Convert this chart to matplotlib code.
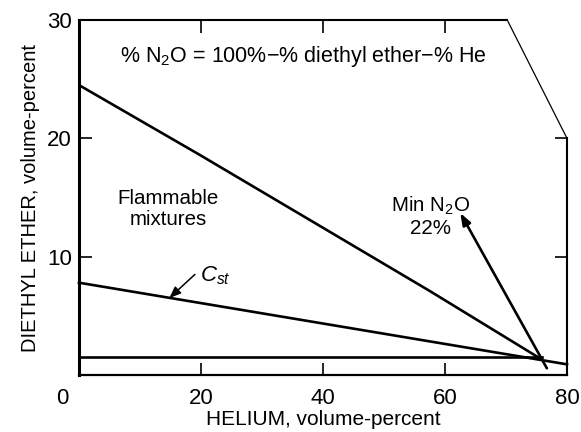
import matplotlib
matplotlib.use("Agg")
import matplotlib.pyplot as plt
from matplotlib.transforms import ScaledTranslation

plt.rcParams['font.family'] = ['Liberation Sans', 'DejaVu Sans']
plt.rcParams['mathtext.fontset'] = 'custom'
plt.rcParams['mathtext.rm'] = 'Liberation Sans'
plt.rcParams['mathtext.it'] = 'Liberation Sans:italic'

# --- data ---
upper_x = [0, 19.8, 36.2, 57.5, 75.9]
upper_y = [24.5, 18.6, 13.6, 7.1, 1.3]
cst_x = [0, 80]
cst_y = [7.8, 0.9]
lower_x = [0, 75.9]
lower_y = [1.5, 1.5]
minn2o_x = [76.7, 62.5]
minn2o_y = [0.57, 13.7]
frame_x = [0, 70.2, 80, 80]
frame_y = [30, 30, 20, 0]
xticks = [0, 20, 40, 60, 80]
xticklabels = ['0', '20', '40', '60', '80']
yticks = [10, 20, 30]
yticklabels = ['10', '20', '30']
top_ticks = [20, 40, 60]
right_ticks = [10, 20]

fig = plt.figure(figsize=(5.81, 4.32), dpi=100)
ax = fig.add_axes([79/581, 57/432, 488/581, 355/432])
ax.set_xlim(0, 80)
ax.set_ylim(0, 30)

for s in ['top', 'right']:
    ax.spines[s].set_visible(False)
ax.spines['left'].set_linewidth(2.2)
ax.spines['bottom'].set_linewidth(1.6)

lw = 1.9
ax.plot(upper_x, upper_y, color='black', lw=lw, solid_capstyle='butt')
ax.plot(cst_x, cst_y, color='black', lw=lw, clip_on=False)
ax.plot(lower_x, lower_y, color='black', lw=lw)
# frame with clipped corner
ax.plot(frame_x[:2], frame_y[:2], color='black', lw=1.5, clip_on=False)
ax.plot(frame_x[1:3], frame_y[1:3], color='black', lw=0.9, clip_on=False)
ax.plot(frame_x[2:], frame_y[2:], color='black', lw=1.5, clip_on=False)

# Min N2O arrow line
ax.annotate('', xy=(minn2o_x[1], minn2o_y[1]), xytext=(minn2o_x[0], minn2o_y[0]),
            arrowprops=dict(arrowstyle='-|>,head_length=0.5,head_width=0.18',
                            color='black', lw=lw,
                            mutation_scale=14, shrinkA=0, shrinkB=0))
# C_st arrow
ax.annotate('', xy=(14.8, 6.5), xytext=(19.0, 8.5),
            arrowprops=dict(arrowstyle='-|>,head_length=0.5,head_width=0.2',
                            color='black', lw=1.1,
                            mutation_scale=14, shrinkA=0, shrinkB=0))

ax.text(22.3, 8.4, '$C_{st}$', fontsize=16, ha='center', va='center')
ax.text(36.8, 26.9, '% N$_\\mathrm{2}$O = 100%\u2212% diethyl ether\u2212% He',
        fontsize=15.5, ha='center', va='center')
ax.text(14.6, 14.05, 'Flammable\nmixtures', fontsize=14.8, ha='center', va='center',
        linespacing=1.15)
ax.text(57.6, 13.4, 'Min N$_\\mathrm{2}$O\n22%', fontsize=14.8, ha='center', va='center',
        linespacing=1.15)

ax.set_xticks(xticks)
ax.set_xticklabels(xticklabels)
ax.set_yticks(yticks)
ax.set_yticklabels(yticklabels)
ax.tick_params(axis='both', direction='in', length=9, width=1.2, labelsize=16)
ax.tick_params(axis='x', pad=9)
ax.tick_params(axis='y', pad=5)
lbl0 = ax.get_xticklabels()[0]
lbl0.set_transform(lbl0.get_transform() + ScaledTranslation(-0.17, 0, fig.dpi_scale_trans))

sec_top = ax.secondary_xaxis('top')
sec_top.set_xticks(top_ticks)
sec_top.set_xticklabels([])
sec_top.tick_params(direction='in', length=9, width=1.2)
sec_top.spines['top'].set_visible(False)

sec_right = ax.secondary_yaxis('right')
sec_right.set_yticks(right_ticks)
sec_right.set_yticklabels([])
sec_right.tick_params(direction='in', length=9, width=1.2)
sec_right.spines['right'].set_visible(False)

ax.set_xlabel('HELIUM, volume-percent', fontsize=15, labelpad=1)
ax.set_ylabel('DIETHYL ETHER, volume-percent', fontsize=14.5, labelpad=5)

fig.savefig('out.png', dpi=100)
